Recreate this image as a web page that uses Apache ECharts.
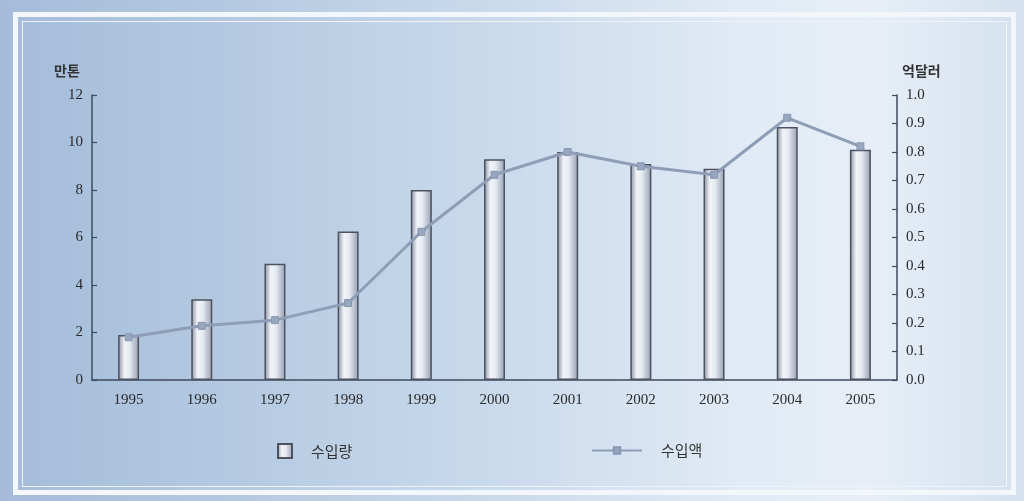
<!DOCTYPE html>
<html>
<head>
<meta charset="utf-8">
<script src="https://cdn.jsdelivr.net/npm/echarts@6/dist/echarts.min.js"></script>
<style>
html,body{margin:0;padding:0;width:1024px;height:501px;overflow:hidden;background:#a9c0da;}
#frame{position:absolute;left:13px;top:12px;width:1003px;height:483px;box-sizing:border-box;border:5px solid #f3f7fb;}
#inner{position:absolute;left:22px;top:21px;width:985px;height:466px;box-sizing:border-box;border:1.5px solid #eef3f9;}
#bg{position:absolute;left:0;top:0;width:1024px;height:501px;
background:linear-gradient(90deg,#a4bcda 0%,#b6cbe2 25%,#cbdbed 50%,#e1eaf5 72%,#e7eef7 85%,#d5e1ef 100%);}
#chart{position:absolute;left:0;top:0;width:1024px;height:501px;}
</style>
</head>
<body>
<div id="bg"></div>
<div id="frame"></div>
<div id="inner"></div>
<div id="chart"></div>
<script>
const years = ['1995','1996','1997','1998','1999','2000','2001','2002','2003','2004','2005'];
const importVolume = [1.9, 3.4, 4.9, 6.25, 8.0, 9.3, 9.6, 9.1, 8.9, 10.65, 9.7];   // 만톤
const importValue = [0.15, 0.19, 0.21, 0.27, 0.52, 0.72, 0.80, 0.75, 0.72, 0.92, 0.82]; // 억달러
const leftTicks = [0, 2, 4, 6, 8, 10, 12];
const rightTicks = [0.0, 0.1, 0.2, 0.3, 0.4, 0.5, 0.6, 0.7, 0.8, 0.9, 1.0];

const chart = echarts.init(document.getElementById('chart'), null, {renderer: 'canvas'});
const axisColor = '#3e4a5c';
const serif = '"Liberation Serif", "DejaVu Serif", serif';
const kr = '"Noto Sans CJK KR", sans-serif';

chart.setOption({
  backgroundColor: 'transparent',
  animation: false,
  grid: {left: 92, right: 127, top: 95, bottom: 121, containLabel: false},
  legend: [
    {data: [{name: '수입량', icon: 'rect'}], left: 272, top: 438, itemWidth: 14, itemHeight: 14,
     textStyle: {fontFamily: kr, fontSize: 15, color: '#333', padding: [0, 0, 0, 14]}},
    {data: ['수입액'], left: 586, top: 438, itemWidth: 50, itemHeight: 8,
     textStyle: {fontFamily: kr, fontSize: 15, color: '#333', padding: [0, 0, 0, 14]}}
  ],
  xAxis: {
    type: 'category', data: years, boundaryGap: true,
    axisLine: {lineStyle: {color: axisColor, width: 1.5}},
    axisTick: {inside: true, length: 5, lineStyle: {color: axisColor, width: 1.2}},
    axisLabel: {fontFamily: serif, fontSize: 15, color: '#2a2a2a', margin: 13}
  },
  yAxis: [
    {type: 'value', min: 0, max: 12, interval: 2,
     axisLine: {show: true, lineStyle: {color: axisColor, width: 1.5}},
     axisTick: {show: true, inside: true, length: 5, lineStyle: {color: axisColor, width: 1.2}},
     axisLabel: {fontFamily: serif, fontSize: 15, color: '#2a2a2a', margin: 9,
       formatter: v => leftTicks.includes(v) ? String(v) : ''},
     splitLine: {show: false}},
    {type: 'value', min: 0, max: 1, interval: 0.1, position: 'right',
     axisLine: {show: true, lineStyle: {color: axisColor, width: 1.5}},
     axisTick: {show: true, inside: true, length: 5, lineStyle: {color: axisColor, width: 1.2}},
     axisLabel: {fontFamily: serif, fontSize: 15, color: '#2a2a2a', margin: 9,
       formatter: v => rightTicks.map(t => t.toFixed(1)).includes(v.toFixed(1)) ? v.toFixed(1) : ''},
     splitLine: {show: false}}
  ],
  graphic: [
    {type: 'text', left: 54, top: 64, style: {text: '만톤', font: 'bold 14px ' + kr, fill: '#333'}},
    {type: 'text', left: 902, top: 64, style: {text: '억달러', font: 'bold 14px ' + kr, fill: '#333'}}
  ],
  series: [
    {name: '수입량', type: 'bar', yAxisIndex: 0, data: importVolume, barWidth: 21,
     itemStyle: {
       color: new echarts.graphic.LinearGradient(0, 0, 1, 0, [
         {offset: 0, color: '#868fa2'},
         {offset: 0.3, color: '#f2f4f8'},
         {offset: 0.55, color: '#e6eaf2'},
         {offset: 1, color: '#949db0'}
       ]),
       borderColor: '#4d5260', borderWidth: 1.5
     }},
    {name: '수입액', type: 'line', yAxisIndex: 1, data: importValue,
     symbol: 'rect', symbolSize: 7, z: 5,
     lineStyle: {color: '#8e9eb6', width: 3},
     itemStyle: {color: '#97a7bf', borderColor: '#8797b0', borderWidth: 1}}
  ]
});
</script>
</body>
</html>
